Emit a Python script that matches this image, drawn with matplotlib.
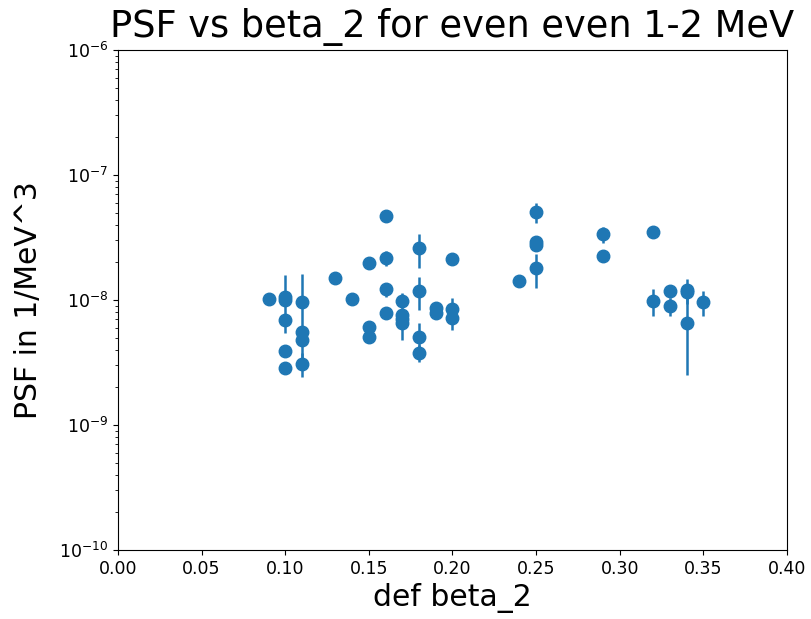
import matplotlib
matplotlib.use("Agg")
import matplotlib.pyplot as plt
import numpy as np

# deformation beta_2 and phase space factor (in units of 1e-9 1/MeV^3)
beta2 = [0.09,
         0.10, 0.10, 0.10, 0.10, 0.10,
         0.11, 0.11, 0.11, 0.11,
         0.13, 0.14,
         0.15, 0.15, 0.15,
         0.16, 0.16, 0.16, 0.16,
         0.17, 0.17, 0.17, 0.17,
         0.18, 0.18, 0.18, 0.18,
         0.19, 0.19,
         0.20, 0.20, 0.20,
         0.24,
         0.25, 0.25, 0.25, 0.25,
         0.29, 0.29,
         0.32, 0.32,
         0.33, 0.33,
         0.34, 0.34, 0.34,
         0.35]
psf = [10.2,
       10.6, 10.0, 6.9, 3.9, 2.85,
       9.6, 5.5, 4.8, 3.1,
       15.0, 10.2,
       19.8, 6.1, 5.1,
       47.0, 21.7, 12.2, 7.9,
       9.8, 7.6, 7.0, 6.5,
       26.0, 11.8, 5.1, 3.8,
       8.6, 7.9,
       21.3, 8.5, 7.2,
       14.2,
       50.6, 29.1, 27.5, 18.0,
       33.7, 22.5,
       35.0, 9.8,
       11.8, 8.9,
       12.0, 11.5, 6.55,
       9.6]
psf_err = [0.0,
           5.2, 0.0, 0.0, 0.0, 0.0,
           6.4, 0.0, 0.0, 0.7,
           0.0, 0.0,
           0.0, 0.0, 0.0,
           0.0, 3.0, 1.6, 0.0,
           1.5, 0.0, 0.0, 1.7,
           8.0, 3.5, 1.5, 0.6,
           0.0, 0.0,
           0.0, 1.8, 1.4,
           0.0,
           9.0, 0.0, 0.0, 5.5,
           5.0, 0.0,
           0.0, 2.4,
           1.4, 1.5,
           2.7, 0.0, 4.05,
           2.1]

psf = np.array(psf) * 1e-9
psf_err = np.array(psf_err) * 1e-9

fig = plt.figure(figsize=(8.12, 6.19), dpi=100)
ax = fig.add_axes([0.1453, 0.1115, 0.8239, 0.8077])

ax.errorbar(beta2, psf, yerr=psf_err, fmt='o', markersize=9, elinewidth=1.8)

ax.set_yscale('log')
ax.set_xlim(0, 0.4)
ax.set_ylim(1e-10, 1e-6)
ax.set_xticks(np.arange(0, 0.41, 0.05))
ax.tick_params(labelsize=12.5)

ax.set_title('PSF vs beta_2 for even even 1-2 MeV', fontsize=26.5, pad=9.5)
ax.set_xlabel('def beta_2', fontsize=21.5, labelpad=4)
ax.set_ylabel('PSF in 1/MeV^3', fontsize=21.5, labelpad=12)

plt.savefig('out.png', dpi=100)
